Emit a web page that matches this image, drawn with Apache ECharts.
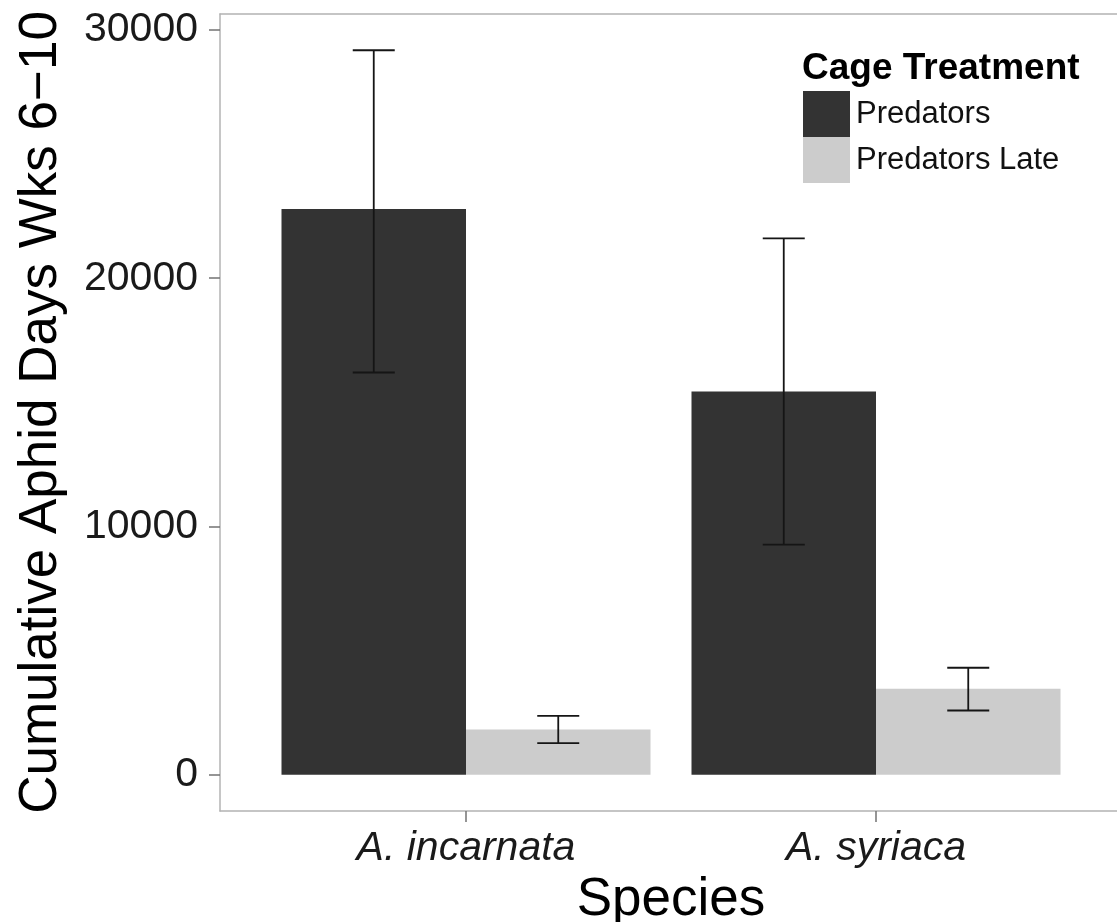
<!DOCTYPE html>
<html lang="en">
<head>
    <meta charset="UTF-8">
    <title>Cumulative Aphid Days</title>
    <script src="https://cdn.jsdelivr.net/npm/echarts@6/dist/echarts.min.js"></script>
    <style type="text/css">
        html, body { margin: 0; padding: 0; background: #fff; }
        #chartData { width: 1117px; height: 922px; }
    </style>
</head>
<body>
<div id="chartData"></div>
<script type="text/javascript">
    // data
    var species = ['A. incarnata', 'A. syriaca'];
    var treatments = ['Predators', 'Predators Late'];
    var predatorsMean = [22785, 15437];
    var predatorsLo = [16203, 9270];
    var predatorsHi = [29180, 21604];
    var lateMean = [1826, 3466];
    var lateLo = [1278, 2592];
    var lateHi = [2378, 4313];
    var yTicks = [0, 10000, 20000, 30000];
    var yMin = -1455, yMax = 30640;

    var fontName = "'Liberation Sans', Arial, sans-serif";
    var darkColor = '#333333', lightColor = '#cccccc';
    var frameLine = { show: true, onZero: false, lineStyle: { color: '#b3b3b3', width: 1.5 } };

    function errData(lo, hi) {
        var out = [];
        for (var i = 0; i < lo.length; i++) {
            out.push([i, lo[i], hi[i]]);
        }
        return out;
    }

    // side: -1 left bar, +1 right bar
    function errRender(side) {
        return function (params, api) {
            var bandW = api.size([1, 0])[0];
            var off = side * bandW * 0.9 / 4;
            var pLo = api.coord([api.value(0), api.value(1)]);
            var pHi = api.coord([api.value(0), api.value(2)]);
            var x = pLo[0] + off, cap = 21;
            var st = { stroke: '#151515', lineWidth: 1.8 };
            return {
                type: 'group',
                children: [
                    { type: 'line', shape: { x1: x, y1: pLo[1], x2: x, y2: pHi[1] }, style: st },
                    { type: 'line', shape: { x1: x - cap, y1: pLo[1], x2: x + cap, y2: pLo[1] }, style: st },
                    { type: 'line', shape: { x1: x - cap, y1: pHi[1], x2: x + cap, y2: pHi[1] }, style: st }
                ]
            };
        };
    }

    var myChart = echarts.init(document.getElementById('chartData'));
    var option = {
        animation: false,
        backgroundColor: '#fff',
        textStyle: { fontFamily: fontName },
        title: {
            text: 'Cage Treatment',
            left: 802,
            top: 50,
            padding: 0,
            textStyle: { fontFamily: fontName, fontWeight: 'bold', fontSize: 37, color: '#000' }
        },
        legend: {
            data: treatments,
            orient: 'vertical',
            left: 803,
            top: 91,
            padding: 0,
            itemWidth: 47,
            itemHeight: 46,
            itemGap: 0,
            icon: 'rect',
            textStyle: { fontFamily: fontName, fontSize: 31, color: '#111', padding: [0, 0, 0, 1] }
        },
        grid: [
            { left: 220, top: 14, right: 0, bottom: 111, outerBoundsMode: 'none' },
            { left: 261, top: 14, width: 820, bottom: 111, outerBoundsMode: 'none' }
        ],
        xAxis: [
            // panel frame: bottom and top edges (right side runs off the picture)
            { type: 'value', gridIndex: 0, position: 'bottom', min: 0, max: 1, axisLine: frameLine,
              axisTick: { show: false }, axisLabel: { show: false }, splitLine: { show: false } },
            {
                type: 'category',
                gridIndex: 1,
                data: species,
                axisLine: { show: false, onZero: false },
                axisTick: { show: true, alignWithLabel: true, length: 11, lineStyle: { color: '#737373', width: 1.5 } },
                axisLabel: { margin: 17, fontSize: 41, fontStyle: 'italic', color: '#1a1a1a', fontFamily: fontName },
                name: 'Species',
                nameLocation: 'middle',
                nameGap: 50,
                nameTextStyle: { fontSize: 53, color: '#000', fontFamily: fontName }
            },
            { type: 'value', gridIndex: 0, position: 'top', min: 0, max: 1, axisLine: frameLine,
              axisTick: { show: false }, axisLabel: { show: false }, splitLine: { show: false } }
        ],
        yAxis: [
            {
                type: 'value',
                gridIndex: 0,
                min: yMin,
                max: yMax,
                splitLine: { show: false },
                axisLine: frameLine,
                axisTick: { show: true, length: 11, customValues: yTicks, lineStyle: { color: '#737373', width: 1.5 } },
                axisLabel: {
                    margin: 22, fontSize: 41, color: '#1a1a1a', fontFamily: fontName, customValues: yTicks,
                    formatter: function (v) { return String(v); }
                },
                name: 'Cumulative Aphid Days Wks 6\u221210',
                nameLocation: 'middle',
                nameGap: 152,
                nameTextStyle: { fontSize: 53, color: '#000', fontFamily: fontName }
            },
            { type: 'value', gridIndex: 1, min: yMin, max: yMax, show: false }
        ],
        series: [
            {
                name: treatments[0],
                type: 'bar',
                xAxisIndex: 1,
                yAxisIndex: 1,
                data: predatorsMean,
                barGap: '0%',
                barCategoryGap: '10%',
                itemStyle: { color: darkColor }
            },
            {
                name: treatments[1],
                type: 'bar',
                xAxisIndex: 1,
                yAxisIndex: 1,
                data: lateMean,
                barGap: '0%',
                barCategoryGap: '10%',
                itemStyle: { color: lightColor }
            },
            {
                type: 'custom',
                xAxisIndex: 1,
                yAxisIndex: 1,
                z: 5,
                renderItem: errRender(-1),
                data: errData(predatorsLo, predatorsHi)
            },
            {
                type: 'custom',
                xAxisIndex: 1,
                yAxisIndex: 1,
                z: 5,
                renderItem: errRender(1),
                data: errData(lateLo, lateHi)
            }
        ]
    };
    myChart.setOption(option);
</script>
</body>
</html>
